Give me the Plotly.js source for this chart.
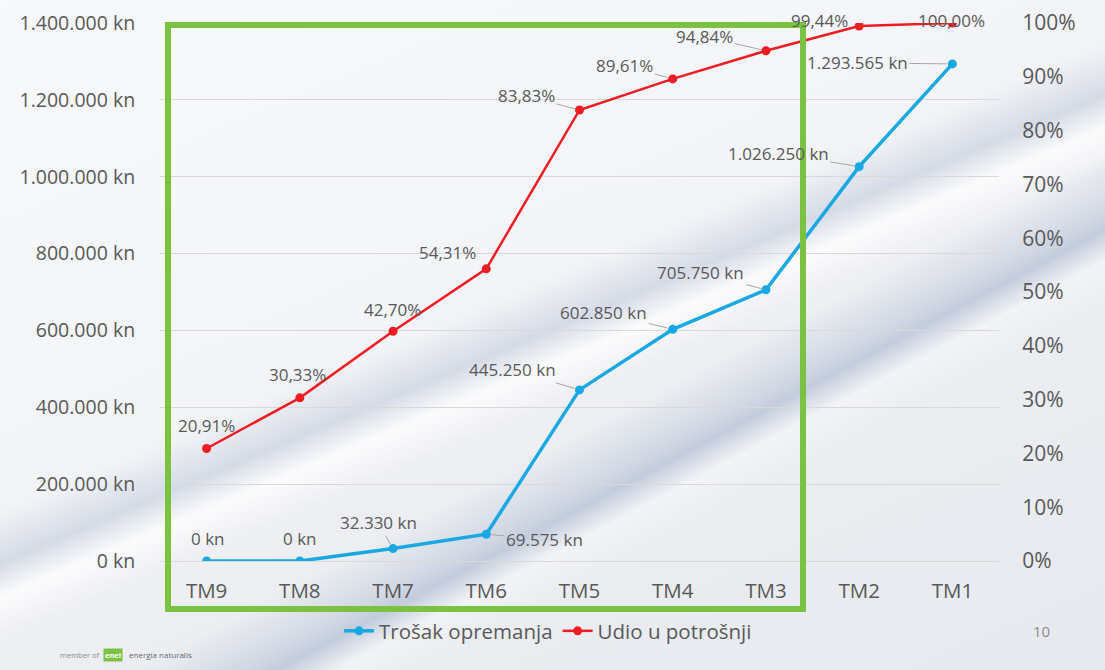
<!DOCTYPE html>
<html>
<head>
<meta charset="utf-8">
<script src="https://cdn.plot.ly/plotly-3.0.1.min.js"></script>
<style>
html,body{margin:0;padding:0;}
body{width:1105px;height:670px;overflow:hidden;
background:
 linear-gradient(152deg, rgba(0,0,0,0) 59%, rgba(150,166,196,0.30) 63.5%, rgba(140,158,192,0.42) 65%, rgba(255,255,255,0.35) 67.5%, rgba(0,0,0,0) 71%),
 linear-gradient(157deg, rgba(0,0,0,0) 45%, rgba(150,166,196,0.30) 49.5%, rgba(255,255,255,0.75) 52.5%, rgba(0,0,0,0) 56%),
 linear-gradient(157deg, #f8f9fb 0%, #f4f5f8 40%, #eceef2 60%, #e6e9ee 100%);}
#chart{width:1105px;height:670px;}
</style>
</head>
<body>
<div id="chart"></div>
<script>
// ---- data ----
var categories = ['TM9','TM8','TM7','TM6','TM5','TM4','TM3','TM2','TM1'];
var trosakOpremanja = [0, 0, 32330, 69575, 445250, 602850, 705750, 1026250, 1293565]; // kn
var udioUPotrosnji = [20.91, 30.33, 42.70, 54.31, 83.83, 89.61, 94.84, 99.44, 100.00]; // %
var seriesNames = ['Trošak opremanja', 'Udio u potrošnji'];

// ---- formatting ----
function fmtKn(v){ return String(Math.round(v)).replace(/\B(?=(\d{3})+(?!\d))/g,'.') + ' kn'; }
function fmtPct(v){ return v.toFixed(2).replace('.',',') + '%'; }

var BLUE = '#19a8e2', RED = '#ee1c24', TXT = '#595959';
var FONT = '"Open Sans", sans-serif';

var traces = [
  {x: categories, y: trosakOpremanja, name: seriesNames[0], type: 'scatter', mode: 'lines+markers',
   line: {color: BLUE, width: 3.5}, marker: {color: BLUE, size: 9}, yaxis: 'y'},
  {x: categories, y: udioUPotrosnji, name: seriesNames[1], type: 'scatter', mode: 'lines+markers',
   line: {color: RED, width: 2.5}, marker: {color: RED, size: 9}, yaxis: 'y2'}
];

// label placement (pixel offsets of label centre from the point) and leader flags
var blueOff = [[1,-23,0],[0,-23,0],[-15,-26,1],[58,5,1],[-67,-20,1],[-69,-17,1],[-65,-17,1],[-81,-13,1],[-95,-1,1]];
var redOff  = [[0,-23,0],[-2,-23,0],[-1,-22,0],[-39,-16,0],[-53,-14,1],[-48,-13,1],[-61,-14,1],[-40,-6,0],[-1,-3,0]];

var annotations = [];
function addLabel(xc, yv, yref, text, off){
  var a = {x: xc, y: yv, xref: 'x', yref: yref, text: text,
    font: {family: FONT, size: 17, color: TXT}};
  if (off[2]) {
    a.showarrow = true; a.ax = off[0]; a.ay = off[1];
    a.arrowhead = 0; a.arrowwidth = 1; a.arrowcolor = '#a6a6a6'; a.standoff = 5;
  } else {
    a.showarrow = false; a.xshift = off[0]; a.yshift = -off[1];
  }
  annotations.push(a);
}
categories.forEach(function(c, i){
  addLabel(c, trosakOpremanja[i], 'y', fmtKn(trosakOpremanja[i]), blueOff[i]);
  addLabel(c, udioUPotrosnji[i], 'y2', fmtPct(udioUPotrosnji[i]), redOff[i]);
});
// page number and footer (paper coordinates of the 839x538 plot area at 160,23)
function px(x){ return (x-160)/839; }
function py(y){ return (561-y)/538; }
annotations.push({xref:'paper', yref:'paper', x:px(1052), y:py(643), text:'10', showarrow:false,
  font:{family:FONT, size:15, color:'#8c8c8c'}});
annotations.push({xref:'paper', yref:'paper', x:px(58), y:py(662), xanchor:'left', text:'member of', showarrow:false,
  font:{family:FONT, size:7.5, color:'#8c8c8c'}});
annotations.push({xref:'paper', yref:'paper', x:px(103), y:py(662), xanchor:'left', text:'<b>enel</b>', showarrow:false,
  bgcolor:'#7cc242', borderpad:1, font:{family:FONT, size:7.5, color:'#ffffff'}});
annotations.push({xref:'paper', yref:'paper', x:px(127), y:py(662), xanchor:'left', text:'energia naturalis', showarrow:false,
  font:{family:FONT, size:8, color:'#666666'}});

var layout = {
  width: 1105, height: 670,
  margin: {l: 160, r: 106, t: 23, b: 109},
  paper_bgcolor: 'rgba(0,0,0,0)', plot_bgcolor: 'rgba(0,0,0,0)',
  separators: ',.',
  font: {family: FONT, color: TXT, size: 18},
  showlegend: true,
  legend: {orientation: 'h', xref: 'container', yref: 'container', x: 0.496, y: 1-631/670,
    xanchor: 'center', yanchor: 'middle', font: {family: FONT, size: 20.5, color: TXT},
    bgcolor: 'rgba(0,0,0,0)', itemwidth: 30},
  xaxis: {type: 'category', range: [-0.5, 8.5], showgrid: false, zeroline: false, showline: false,
    ticks: 'outside', ticklen: 11, tickcolor: 'rgba(0,0,0,0)', tickfont: {family: FONT, size: 20.5, color: TXT},
    fixedrange: true},
  yaxis: {range: [0, 1400000], dtick: 200000, tickformat: ',.0f', ticksuffix: ' kn',
    showgrid: true, gridcolor: '#d9d9d9', gridwidth: 1, zeroline: true, zerolinecolor: '#d9d9d9', zerolinewidth: 1,
    showline: false, ticks: 'outside', ticklen: 20, tickcolor: 'rgba(0,0,0,0)',
    tickfont: {family: FONT, size: 19.5, color: TXT}},
  yaxis2: {overlaying: 'y', side: 'right', range: [0, 100], dtick: 10, ticksuffix: '%',
    showgrid: false, zeroline: false, showline: false, ticks: 'outside', ticklen: 18, tickcolor: 'rgba(0,0,0,0)',
    tickfont: {family: FONT, size: 21, color: TXT}},
  shapes: [
    {type: 'rect', xref: 'paper', yref: 'paper', layer: 'above',
     x0: px(168), x1: px(803), y0: py(609), y1: py(25),
     line: {color: '#7cc242', width: 6}, fillcolor: 'rgba(0,0,0,0)'}
  ],
  annotations: annotations
};

Plotly.newPlot('chart', traces, layout, {displayModeBar: false, staticPlot: true});
</script>
</body>
</html>
